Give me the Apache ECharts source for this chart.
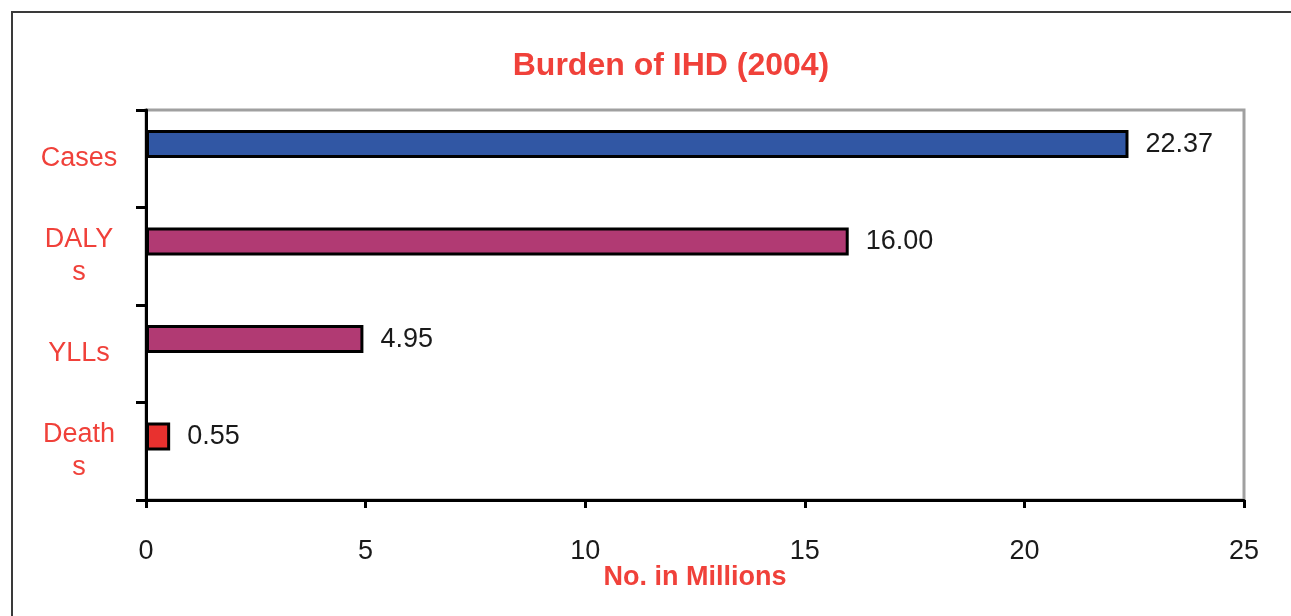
<!DOCTYPE html>
<html>
<head>
<meta charset="utf-8">
<style>
  html, body { margin: 0; padding: 0; background: #fff; }
  #chart { width: 1291px; height: 616px; }
</style>
<script src="https://cdn.jsdelivr.net/npm/echarts@6/dist/echarts.min.js"></script>
</head>
<body>
<div id="chart"></div>
<script>
// Burden of ischaemic heart disease, 2004 (millions)
const categories = ['Cases', 'DALY\ns', 'YLLs', 'Death\ns'];
const values = [22.37, 16.00, 4.95, 0.55];
const barColors = ['#3157a4', '#b13a73', '#b13a73', '#e8312f'];
const xTicks = [0, 5, 10, 15, 20, 25];

const FONT = '"Liberation Sans", Arial, sans-serif';
const RED = '#f0413a';

const chart = echarts.init(document.getElementById('chart'));

chart.setOption({
  animation: false,
  backgroundColor: '#fff',
  textStyle: { fontFamily: FONT },
  title: {
    text: 'Burden of IHD (2004)',
    left: 666,
    top: 45,
    textAlign: 'center',
    textStyle: { color: RED, fontSize: 32, fontWeight: 'bold', fontFamily: FONT }
  },
  graphic: [{
    type: 'rect',
    shape: { x: 12, y: 12, width: 1400, height: 800 },
    style: { fill: null, stroke: '#3a3a3a', lineWidth: 2 },
    silent: true,
    z: -10
  }],
  grid: {
    left: 146, right: 47, top: 110, bottom: 116,
    show: true,
    borderColor: '#a0a0a0',
    borderWidth: 3,
    backgroundColor: 'transparent'
  },
  xAxis: {
    type: 'value',
    min: xTicks[0],
    max: xTicks[xTicks.length - 1],
    interval: xTicks[1] - xTicks[0],
    name: 'No. in Millions',
    nameLocation: 'middle',
    nameGap: 64,
    nameMoveOverlap: false,
    nameTextStyle: { color: RED, fontSize: 27, fontWeight: 'bold', fontFamily: FONT },
    axisLine: { show: true, lineStyle: { color: '#000', width: 3 } },
    axisTick: { show: true, length: 8, lineStyle: { color: '#000', width: 3 } },
    axisLabel: { color: '#1a1a1a', fontSize: 27, margin: 38, fontFamily: FONT },
    splitLine: { show: false }
  },
  yAxis: {
    type: 'category',
    inverse: true,
    data: categories,
    axisLine: { show: true, lineStyle: { color: '#000', width: 3 } },
    axisTick: { show: true, length: 10, lineStyle: { color: '#000', width: 3 } },
    axisLabel: {
      color: RED, fontSize: 27, fontFamily: FONT,
      align: 'center', margin: 67, lineHeight: 33,
      padding: [3, 0, 0, 0]
    },
    splitLine: { show: false }
  },
  series: [
    {
      type: 'bar',
      barWidth: 28,
      barGap: '5%',
      data: values.map((v, i) => ({
        value: v,
        itemStyle: { color: barColors[i] }
      })),
      itemStyle: { borderColor: '#000', borderWidth: 3 },
      label: {
        show: true,
        position: 'right',
        distance: 17,
        color: '#1a1a1a',
        fontSize: 27,
        fontFamily: FONT,
        padding: [3, 0, 0, 0],
        formatter: p => p.value.toFixed(2)
      }
    },
    {
      type: 'bar',
      barWidth: 28,
      barGap: '5%',
      data: values.map(() => '-')
    }
  ]
});
</script>
</body>
</html>
